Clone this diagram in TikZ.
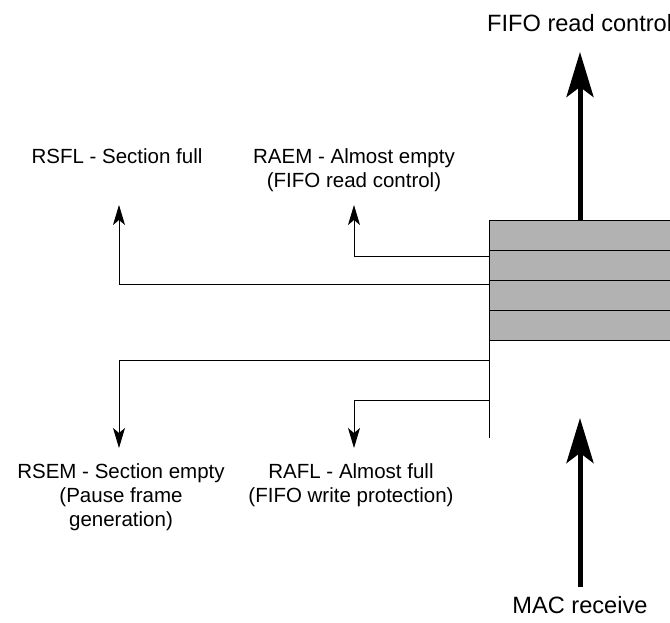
\documentclass[tikz,border=0pt]{standalone}
\usepackage{fontspec}
\setmainfont{Liberation Sans}
\usetikzlibrary{arrows.meta}
\tikzset{
  sig/.style={line width=1pt,-{Stealth[length=20pt,width=12pt,inset=5pt]}},
  flow/.style={line width=5pt,-{Stealth[length=45pt,width=27pt,inset=10pt]}},
  lbl/.style={font=\fontsize{20.5}{24}\selectfont,align=center,inner sep=0pt,anchor=north},
  biglbl/.style={lbl,font=\fontsize{23.6}{28}\selectfont},
  cell/.style={draw,line width=1.2pt,fill=black!30,minimum width=200pt,minimum height=30pt,
    anchor=north west,inner sep=0pt}
}
\begin{document}
\begin{tikzpicture}[x=1pt,y=-1pt]
  \useasboundingbox (0,0) rectangle (670,623);
  \clip (0,0) rectangle (670,623);
  % FIFO sections
  \foreach \i in {0,...,3}
    \node[cell] (row\i) at (489,220+30*\i) {};
  \coordinate (tail) at (489,438);
  \draw[line width=1pt] (row3.south west) -- (tail);
  % taps on the fifo edge
  \coordinate (aemtap) at (489,256);
  \coordinate (sfltap) at (489,284);
  \coordinate (semtap) at (489,360);
  \coordinate (afltap) at (489,400);
  \coordinate (aemtip) at (354,205);
  \coordinate (sfltip) at (119,205);
  \coordinate (semtip) at (119,448);
  \coordinate (afltip) at (354,448);
  \draw[sig] (aemtap) -| (aemtip);
  \draw[sig] (sfltap) -| (sfltip);
  \draw[sig] (semtap) -| (semtip);
  \draw[sig] (afltap) -| (afltip);
  % data in and out
  \coordinate (rdtop) at (580,220);
  \coordinate (rdtip) at (580,52);
  \coordinate (rxbot) at (580,587);
  \coordinate (rxtip) at (580,418);
  \draw[flow] (rdtop) -- (rdtip);
  \draw[flow] (rxbot) -- (rxtip);
  % labels
  \node[biglbl,anchor=north west] (rdlbl) at (487,14) {FIFO read control};
  \node[biglbl] (rxlbl) at (580,596) {MAC receive};
  \node[lbl] (sfllbl) at (117,148) {RSFL - Section full};
  \node[lbl] (aemlbl) at (354,148) {RAEM - Almost empty\\(FIFO read control)};
  \node[lbl] (semlbl) at (121,463) {RSEM - Section empty\\(Pause frame\\generation)};
  \node[lbl] (afllbl) at (351,463) {RAFL - Almost full\\(FIFO write protection)};
\end{tikzpicture}
\end{document}
